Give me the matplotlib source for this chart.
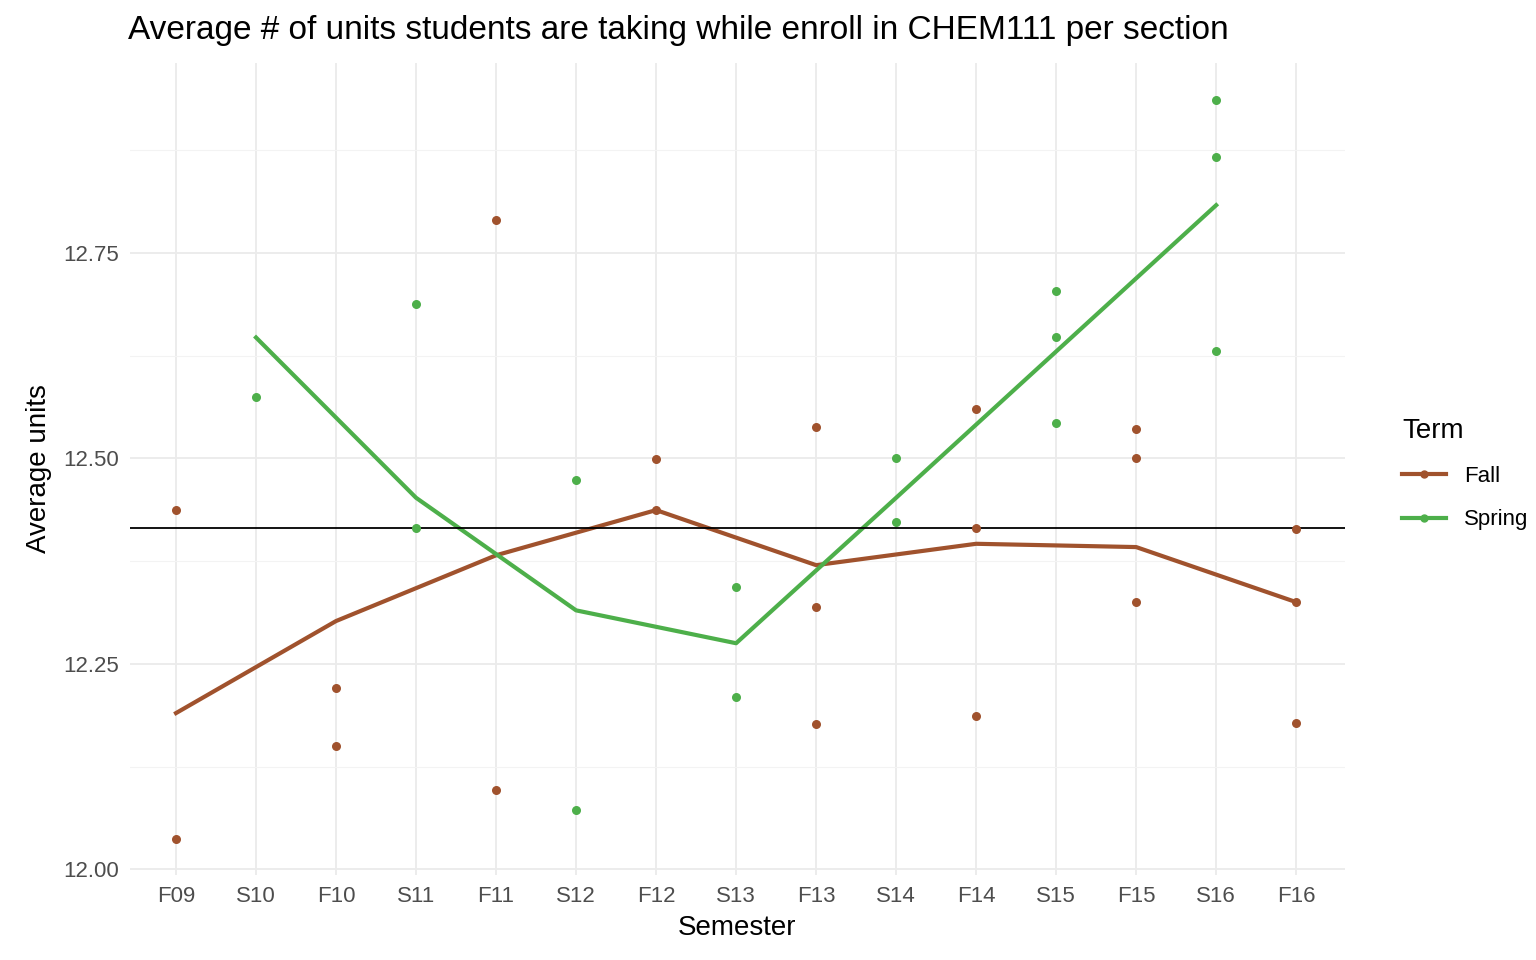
import matplotlib.pyplot as plt
import numpy as np
plt.rcParams['font.family'] = ['Liberation Sans', 'DejaVu Sans']

semesters = ["F09","S10","F10","S11","F11","S12","F12","S13","F13","S14","F14","S15","F15","S16","F16"]
fall_pts = {"F09":[12.437,12.037],"F10":[12.220,12.150],"F11":[12.790,12.096],
            "F12":[12.499,12.437],"F13":[12.538,12.319,12.177],"F14":[12.560,12.415,12.186],
            "F15":[12.536,12.500,12.325],"F16":[12.414,12.325,12.178]}
spring_pts = {"S10":[12.575],"S11":[12.688,12.415],"S12":[12.474,12.072],"S13":[12.343,12.209],
              "S14":[12.500,12.422],"S15":[12.703,12.648,12.543],"S16":[12.936,12.867,12.631]}
fall_line = {"F09":12.190,"F10":12.302,"F11":12.382,"F12":12.437,"F13":12.370,"F14":12.396,"F15":12.392,"F16":12.325}
spring_line = {"S10":12.647,"S11":12.452,"S12":12.315,"S13":12.275,"S14":12.452,"S15":12.630,"S16":12.808}
hline = 12.415

fall_c = "#A0522D"; spring_c = "#4DAF4A"
idx = {s:i for i,s in enumerate(semesters)}

fig = plt.figure(figsize=(15.36,9.6), dpi=100)
ax = fig.add_axes([130/1536, 85/960, 1215/1536, 812/960])
for s in ["left","right","top","bottom"]: ax.spines[s].set_visible(False)
ax.set_xlim(-0.575, 14.61); ax.set_ylim(11.993, 12.981)
ax.set_yticks([12.0,12.25,12.5,12.75]); ax.set_yticklabels(["12.00","12.25","12.50","12.75"])
ax.set_yticks([12.125,12.375,12.625,12.875], minor=True)
ax.set_xticks(range(len(semesters))); ax.set_xticklabels(semesters)
ax.grid(True, which="major", color="#EBEBEB", lw=1.3)
ax.grid(True, which="minor", axis="y", color="#F3F3F3", lw=0.8)
ax.set_axisbelow(True)
ax.tick_params(which="both", length=0, labelsize=16, colors="#4D4D4D", pad=8)

for d, c in [(fall_pts, fall_c), (spring_pts, spring_c)]:
    for k, v in d.items():
        ax.scatter([idx[k]]*len(v), v, color=c, s=30, zorder=3)
ax.plot([idx[k] for k in fall_line], list(fall_line.values()), color=fall_c, lw=3)
ax.plot([idx[k] for k in spring_line], list(spring_line.values()), color=spring_c, lw=3)
ax.axhline(hline, color="black", lw=1.3)

from matplotlib.lines import Line2D
h = [Line2D([],[],color=fall_c,lw=3,marker="o",markersize=5), Line2D([],[],color=spring_c,lw=3,marker="o",markersize=5)]
leg = fig.legend(h, ["Fall","Spring"], title="Term", loc="upper left", bbox_to_anchor=(1382/1536, 1-398/960),
                 frameon=False, fontsize=16, title_fontsize=20, handlelength=2.0, labelspacing=1.0)
leg._legend_box.align = "left"

ax.set_xlabel("Semester", fontsize=20, labelpad=6)
ax.set_ylabel("Average units", fontsize=20, labelpad=8)
fig.text(128/1536, 1-30/960, "Average # of units students are taking while enroll in CHEM111 per section", fontsize=24, va="center")
fig.savefig("out.png", dpi=100)
